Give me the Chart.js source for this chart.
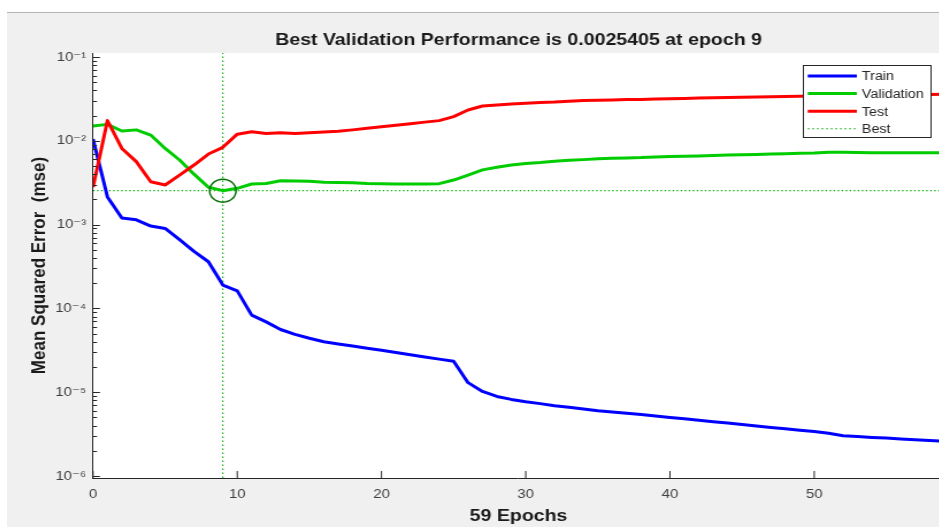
<!DOCTYPE html>
<html>
<head>
<meta charset="utf-8">
<script src="https://cdn.jsdelivr.net/npm/chart.js@4.4.1/dist/chart.umd.min.js"></script>
<style>
  html, body { margin: 0; padding: 0; background: #fff; overflow: hidden; width: 939px; height: 527px; }
  #fig { position: absolute; left: 7px; top: 12px; width: 960px; height: 520px; background: #f0f0f0; border-top: 1px solid #b4b4b4; }
  /* the reference is stretched sideways a little, so stretch the canvas the same way */
  #perf { display: block; transform: scaleX(1.15); transform-origin: 0 0; }
</style>
</head>
<body>
<div id="fig"><canvas id="perf" width="818" height="514"></canvas></div>
<script>
// epochs 0..59
var epochs = [0,1,2,3,4,5,6,7,8,9,10,11,12,13,14,15,16,17,18,19,20,21,22,23,24,25,26,27,28,29,
  30,31,32,33,34,35,36,37,38,39,40,41,42,43,44,45,46,47,48,49,50,51,52,53,54,55,56,57,58,59];

// mse per epoch
var train = [0.0105,0.00214,0.0012,0.00114,0.00096,0.0009,0.00066,0.00048,0.00036,0.00019,
  0.000162,8.3e-5,6.9e-5,5.6e-5,4.9e-5,4.4e-5,4.0e-5,3.76e-5,3.55e-5,3.34e-5,
  3.16e-5,2.97e-5,2.8e-5,2.63e-5,2.48e-5,2.34e-5,1.3e-5,1.02e-5,8.9e-6,8.2e-6,
  7.7e-6,7.3e-6,6.9e-6,6.6e-6,6.3e-6,6.0e-6,5.8e-6,5.6e-6,5.41e-6,5.2e-6,
  5.0e-6,4.81e-6,4.62e-6,4.45e-6,4.29e-6,4.12e-6,3.96e-6,3.8e-6,3.66e-6,3.52e-6,
  3.39e-6,3.24e-6,3.02e-6,2.95e-6,2.88e-6,2.83e-6,2.77e-6,2.71e-6,2.65e-6,2.6e-6];
var validation = [0.015,0.0157,0.0131,0.0135,0.0117,0.0081,0.0059,0.004,0.00279,0.0025405,
  0.00271,0.00305,0.0031,0.00334,0.00331,0.00328,0.0032,0.00318,0.00315,0.0031,
  0.00308,0.00306,0.00305,0.00305,0.00308,0.0034,0.0039,0.0045,0.00483,0.00514,
  0.00537,0.0055,0.00569,0.00584,0.00596,0.0061,0.00618,0.00625,0.0063,0.0064,
  0.0065,0.00655,0.0066,0.00668,0.00675,0.0068,0.00688,0.00695,0.007,0.00708,
  0.00715,0.0073,0.0073,0.00725,0.00722,0.0072,0.0072,0.0072,0.0072,0.0072];
var test = [0.00279,0.0174,0.0081,0.00564,0.00325,0.00297,0.0039,0.00514,0.00695,0.00836,
  0.012,0.0128,0.0122,0.0125,0.0122,0.0125,0.0127,0.013,0.0135,0.0141,
  0.0147,0.0153,0.016,0.0167,0.0174,0.0194,0.0233,0.026,0.0267,0.0274,
  0.028,0.0287,0.029,0.0296,0.0302,0.0304,0.0307,0.031,0.0312,0.0315,
  0.0318,0.032,0.0323,0.0326,0.0329,0.0331,0.0334,0.0336,0.0338,0.034,
  0.0342,0.0345,0.0347,0.0349,0.035,0.0352,0.0354,0.0356,0.0358,0.036];

var bestEpoch = 9;
var bestPerf = 0.0025405;

var xTicks = [0,10,20,30,40,50];
var yTicks = [1e-6,1e-5,1e-4,1e-3,1e-2,1e-1];
var xMin = 0, xMax = 59;
var yMin = 0.946e-6, yMax = 0.1116;

var FONT = "'Liberation Sans', Arial, Helvetica, 'DejaVu Sans', sans-serif";

function pts(vals) {
  return epochs.map(function(e, i) { return {x: e, y: vals[i]}; });
}
function isPow10(v) {
  var l = Math.log10(v);
  return Math.abs(l - Math.round(l)) < 1e-9;
}
var sup = {'-': '\u207B', '0': '\u2070', '1': '\u00B9', '2': '\u00B2', '3': '\u00B3', '4': '\u2074',
  '5': '\u2075', '6': '\u2076', '7': '\u2077', '8': '\u2078', '9': '\u2079'};
function powLabel(v) {
  var p = String(Math.round(Math.log10(v)));
  return '10' + p.split('').map(function(c) { return sup[c]; }).join('');
}

// white plot area
var plotBg = {
  id: 'plotBg',
  beforeDraw: function(chart) {
    var a = chart.chartArea, ctx = chart.ctx;
    ctx.save();
    ctx.fillStyle = '#ffffff';
    ctx.fillRect(a.left, a.top, a.right - a.left, a.bottom - a.top);
    ctx.restore();
  }
};

// inward tick marks like matlab
var tickMarks = {
  id: 'tickMarks',
  afterDraw: function(chart) {
    var ctx = chart.ctx, a = chart.chartArea, x = chart.scales.x, y = chart.scales.y;
    ctx.save();
    ctx.strokeStyle = '#262626';
    ctx.lineWidth = 1;
    ctx.beginPath();
    y.ticks.forEach(function(t) {
      var py = Math.round(y.getPixelForValue(t.value)) + 0.5;
      var len = isPow10(t.value) ? 6 : 3.5;
      ctx.moveTo(a.left, py);
      ctx.lineTo(a.left + len, py);
    });
    x.ticks.forEach(function(t) {
      var px = x.getPixelForValue(t.value);
      ctx.moveTo(px, a.bottom);
      ctx.lineTo(px, a.bottom - 7);
    });
    ctx.stroke();
    ctx.restore();
  }
};

// legend box top right
var boxLegend = {
  id: 'boxLegend',
  afterDraw: function(chart) {
    var ctx = chart.ctx;
    var bx = 692, by = 52, bw = 111, bh = 72;
    ctx.save();
    ctx.fillStyle = '#ffffff';
    ctx.fillRect(bx, by, bw, bh);
    ctx.strokeStyle = '#262626';
    ctx.lineWidth = 1;
    ctx.strokeRect(bx + 0.5, by + 0.5, bw, bh);
    ctx.font = '12.5px ' + FONT;
    ctx.textBaseline = 'middle';
    var items = chart.data.datasets.filter(function(d) { return d.inLegend; });
    items.forEach(function(d, i) {
      var yy = by + 11 + i * 17.6;
      ctx.beginPath();
      ctx.strokeStyle = d.borderColor;
      ctx.lineWidth = d.borderWidth;
      ctx.setLineDash(d.borderDash || []);
      ctx.moveTo(bx + 4.3, yy);
      ctx.lineTo(bx + 47, yy);
      ctx.stroke();
      ctx.setLineDash([]);
      ctx.fillStyle = '#262626';
      ctx.fillText(d.label, bx + 51.3, yy + 1);
    });
    ctx.restore();
  }
};

var ctx = document.getElementById('perf');
var chart = new Chart(ctx, {
  type: 'line',
  data: {
    datasets: [
      { label: 'Train', data: pts(train), borderColor: '#0000ff', borderWidth: 3, order: 3, inLegend: true },
      { label: 'Validation', data: pts(validation), borderColor: '#00cc00', borderWidth: 3, order: 2, inLegend: true },
      { label: 'Test', data: pts(test), borderColor: '#ff0000', borderWidth: 3, order: 1, inLegend: true },
      { label: 'Best', data: [{x: bestEpoch, y: yMin}, {x: bestEpoch, y: yMax}],
        borderColor: '#00aa00', borderWidth: 1.1, borderDash: [1.5, 2.5], order: 5, inLegend: true },
      { label: 'BestH', data: [{x: xMin, y: bestPerf}, {x: xMax, y: bestPerf}],
        borderColor: '#00aa00', borderWidth: 1.2, borderDash: [1.3, 2.2], order: 6 },
      { label: 'BestPt', data: [{x: bestEpoch, y: bestPerf}], showLine: false,
        pointRadius: 11.5, pointStyle: 'circle', pointBorderColor: '#007000', pointBorderWidth: 1.5,
        pointBackgroundColor: 'rgba(0,0,0,0)', borderColor: '#007000', order: 0 }
    ]
  },
  options: {
    responsive: false,
    animation: false,
    events: [],
    elements: { line: { tension: 0, borderJoinStyle: 'round' }, point: { radius: 0 } },
    layout: { autoPadding: false, padding: { left: 0, right: 3.2, top: 0, bottom: 0 } },
    plugins: {
      legend: { display: false },
      tooltip: { enabled: false },
      title: {
        display: true,
        fullSize: false,
        text: 'Best Validation Performance is 0.0025405 at epoch 9',
        color: '#1a1a1a',
        font: { family: FONT, size: 17, weight: 'bold' },
        padding: { top: 16.8, bottom: 2.8 }
      }
    },
    scales: {
      x: {
        type: 'linear',
        min: xMin, max: xMax,
        afterBuildTicks: function(s) { s.ticks = xTicks.map(function(v) { return {value: v}; }); },
        afterFit: function(s) { s.height = 49; s.paddingLeft = 0; s.paddingRight = 0; },
        grid: { display: false, drawTicks: false },
        border: { display: true, color: '#262626', width: 1 },
        ticks: { padding: 9, color: '#404040', font: { family: FONT, size: 13 }, maxRotation: 0, autoSkip: false },
        title: { display: true, text: '59 Epochs', color: '#1a1a1a',
          font: { family: FONT, size: 17, weight: 'bold' }, padding: { top: 0, bottom: 0.8 } }
      },
      y: {
        type: 'logarithmic',
        min: yMin, max: yMax,
        afterBuildTicks: function(s) {
          var t = [];
          yTicks.forEach(function(p, i) {
            t.push({value: p});
            if (i < yTicks.length - 1) {
              [2,3,4,5,6,7,8,9].forEach(function(m) { t.push({value: p * m}); });
            }
          });
          s.ticks = t;
        },
        afterFit: function(s) { s.width = 74.8; },
        grid: { display: false, drawTicks: false },
        border: { display: true, color: '#262626', width: 1 },
        ticks: {
          padding: 6, color: '#404040', font: { family: FONT, size: 13 }, autoSkip: false,
          callback: function(v) { return isPow10(v) ? powLabel(v) : ''; }
        },
        title: { display: true, text: 'Mean Squared Error  (mse)', color: '#1a1a1a',
          font: { family: FONT, size: 17, weight: 'bold' }, padding: { top: 18.1, bottom: 0 } }
      }
    }
  },
  plugins: [plotBg, tickMarks, boxLegend]
});
</script>
</body>
</html>
